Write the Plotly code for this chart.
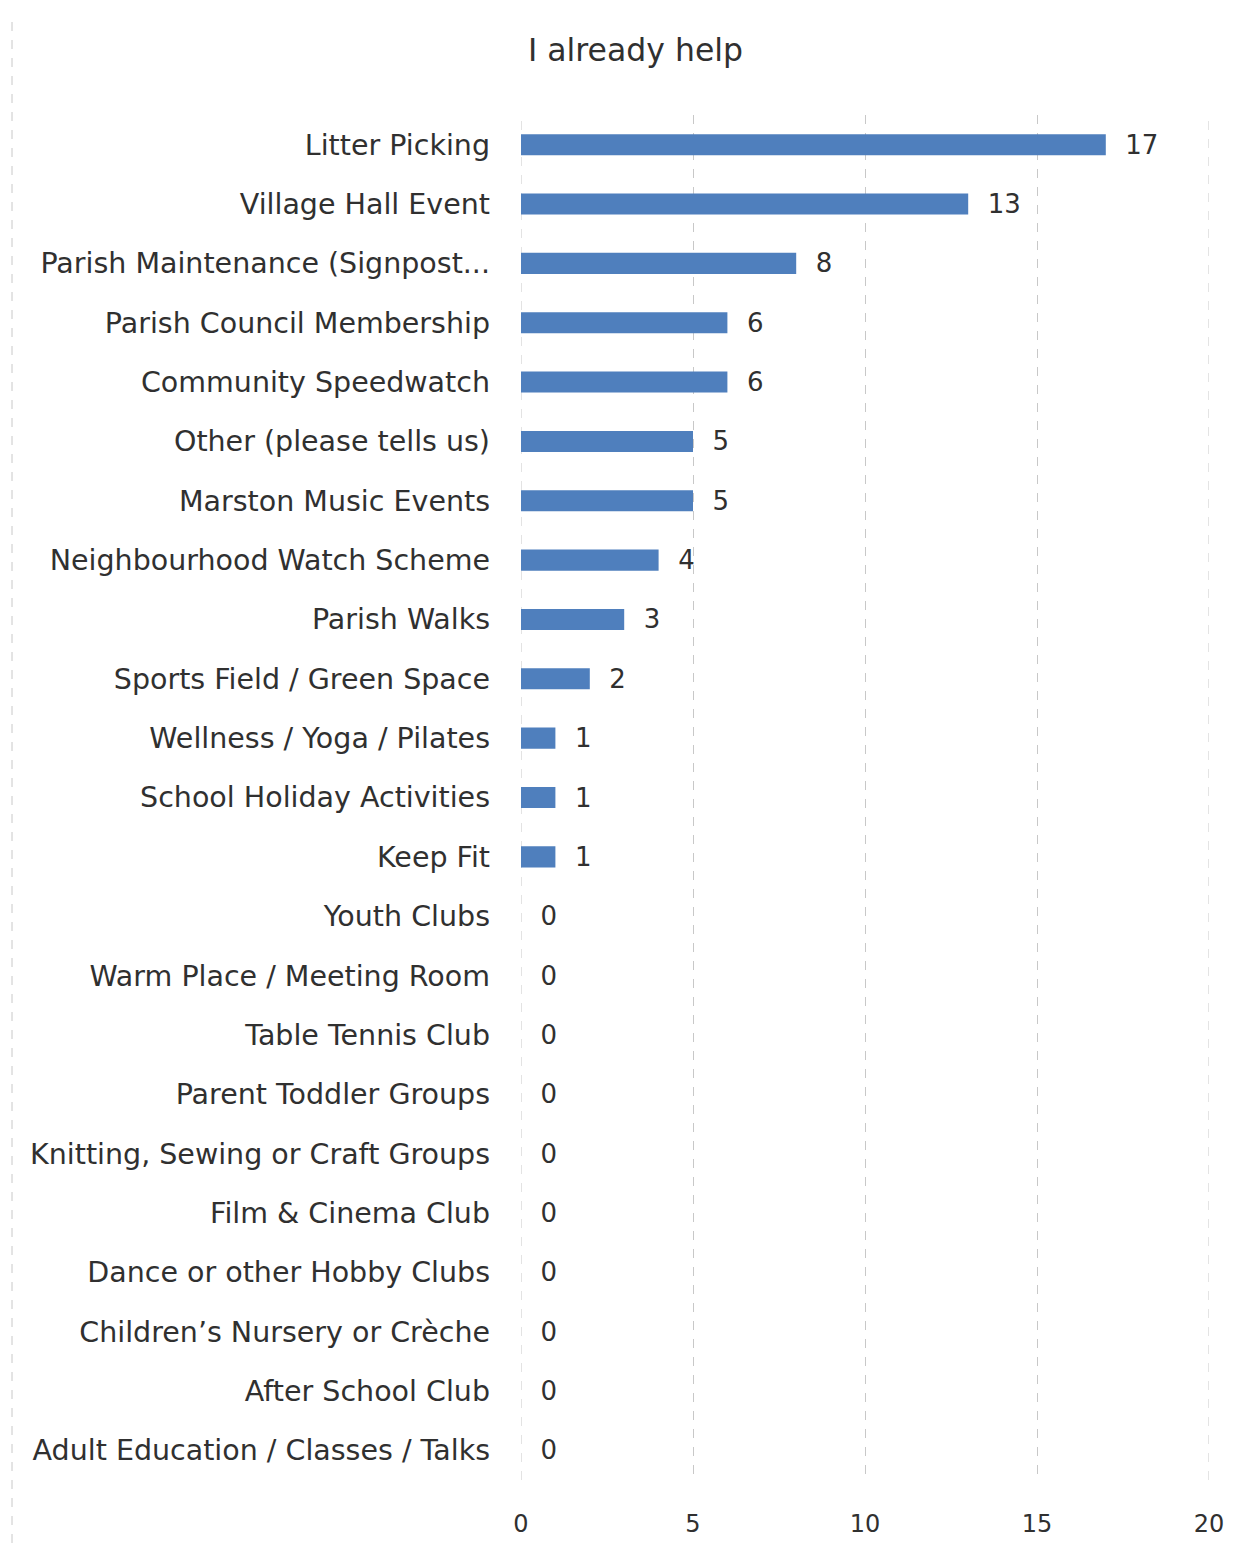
import plotly.graph_objects as go

categories = [
    "Litter Picking",
    "Village Hall Event",
    "Parish Maintenance (Signpost...",
    "Parish Council Membership",
    "Community Speedwatch",
    "Other (please tells us)",
    "Marston Music Events",
    "Neighbourhood Watch Scheme",
    "Parish Walks",
    "Sports Field / Green Space",
    "Wellness / Yoga / Pilates",
    "School Holiday Activities",
    "Keep Fit",
    "Youth Clubs",
    "Warm Place / Meeting Room",
    "Table Tennis Club",
    "Parent Toddler Groups",
    "Knitting, Sewing or Craft Groups",
    "Film & Cinema Club",
    "Dance or other Hobby Clubs",
    "Children\u2019s Nursery or Cr\u00e8che",
    "After School Club",
    "Adult Education / Classes / Talks",
]
values = [17, 13, 8, 6, 6, 5, 5, 4, 3, 2, 1, 1, 1, 0, 0, 0, 0, 0, 0, 0, 0, 0, 0]
x_ticks = [0, 5, 10, 15, 20]

FONT = "DejaVu Sans"
TXT = "#303030"
GRID = "#c8c8c8"

W, H = 1240, 1543
L, R, T, B = 513, 39, 107, 71
PW = W - L - R
PH = H - T - B

fig = go.Figure(
    go.Bar(
        y=categories,
        x=values,
        orientation="h",
        marker=dict(color="#4f7fbd", line=dict(width=0)),
        text=["\u00a0\u00a0" + str(v) for v in values],
        textposition="outside",
        constraintext="none",
        textfont=dict(family=FONT, size=26, color=TXT),
        cliponaxis=False,
        width=0.355,
    )
)

grid_shapes = [
    dict(
        type="line", xref="x", yref="paper",
        x0=v, x1=v, y0=0, y1=1,
        line=dict(color=GRID, width=1, dash="dash"),
        layer="below",
    )
    for v in (x_ticks[0], x_ticks[-1])
]

fig.update_layout(
    width=W,
    height=H,
    paper_bgcolor="white",
    plot_bgcolor="white",
    margin=dict(l=L, r=R, t=T, b=B, autoexpand=False),
    showlegend=False,
    title=dict(
        text="I already help",
        x=(635.5 - 8) / W,
        xanchor="center",
        y=1 - 42 / H,
        yanchor="middle",
        font=dict(family=FONT, size=31.5, color=TXT),
    ),
    xaxis=dict(
        range=[0, 20],
        tickvals=x_ticks,
        showgrid=True,
        gridcolor=GRID,
        griddash="dash",
        gridwidth=1,
        zeroline=False,
        showline=False,
        ticks="",
        ticklabelstandoff=27,
        tickfont=dict(family=FONT, size=24, color=TXT),
        fixedrange=True,
    ),
    yaxis=dict(
        categoryorder="array",
        categoryarray=categories[::-1],
        showgrid=False,
        zeroline=False,
        showline=False,
        ticks="",
        ticklabelstandoff=30,
        automargin=False,
        tickfont=dict(family=FONT, size=28.5, color=TXT),
    ),
    shapes=[
        dict(
            type="line", xref="paper", yref="paper",
            x0=(4 - L) / PW, x1=(4 - L) / PW,
            y0=-(B + 10) / PH, y1=1 + (T - 7) / PH,
            line=dict(color=GRID, width=1, dash="dash"),
        ),
    ] + grid_shapes,
)

fig.write_html("out.html")
